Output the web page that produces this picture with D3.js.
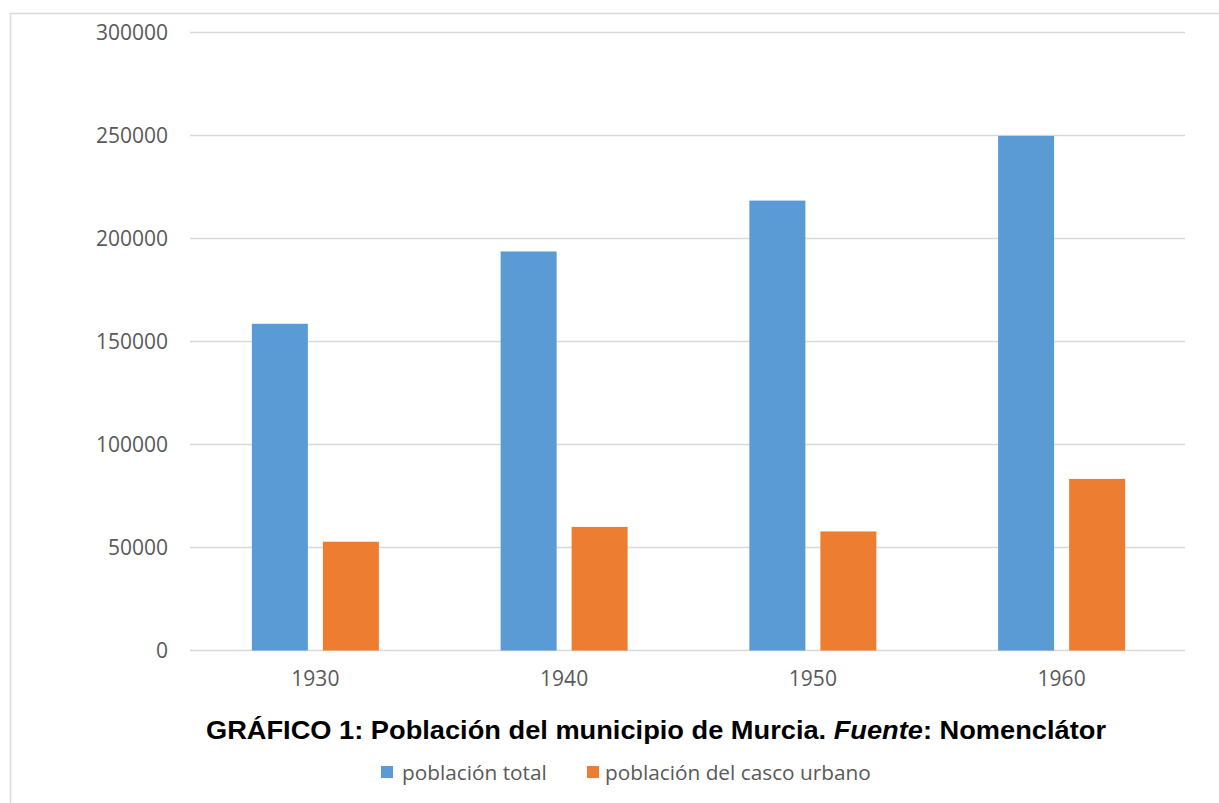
<!DOCTYPE html>
<html>
<head>
<meta charset="utf-8">
<script src="https://cdn.jsdelivr.net/npm/d3@7"></script>
<style>
  html, body { margin: 0; padding: 0; background: #fff; }
  svg { display: block; }
</style>
</head>
<body>
<svg id="chart" width="1219" height="803"></svg>
<script>
const categories = ["1930", "1940", "1950", "1960"];
const seriesNames = ["población total", "población del casco urbano"];
const poblacionTotal = [158600, 193700, 218400, 249800];
const poblacionCasco = [52800, 60000, 57800, 83300];
const yTicks = [0, 50000, 100000, 150000, 200000, 250000, 300000];
const colors = ["#5b9bd5", "#ed7d31"];

(function () {
const svg = d3.select("#chart");
const W = 1219, H = 803;

// outer border
svg.append("rect").attr("x", 10.5).attr("y", 13.5).attr("width", W).attr("height", H)
  .attr("fill", "#fff").attr("stroke", "#d9d9d9").attr("stroke-width", 1.5);

const pLeft = 190, pRight = 1185, pTop = 32.5, pBottom = 650.5;
const x = d3.scaleBand().domain(categories).range([pLeft, pRight]);
const y = d3.scaleLinear().domain([0, 300000]).range([pBottom, pTop]);

// gridlines
svg.append("g").selectAll("line").data(yTicks).join("line")
  .attr("x1", pLeft).attr("x2", pRight)
  .attr("y1", d => y(d)).attr("y2", d => y(d))
  .attr("stroke", "#d9d9d9").attr("stroke-width", 1.5);

// y axis labels
const yAxis = d3.axisLeft(y).tickValues(yTicks).tickSize(0).tickPadding(0).tickFormat(d3.format("d"));
const gy = svg.append("g").attr("transform", `translate(168,0)`).call(yAxis);
gy.select(".domain").remove();
gy.selectAll("text").attr("font-family", "Open Sans").attr("font-size", 21).attr("fill", "#595959")
  .attr("dy", "0.35em");

// x axis labels
const xAxis = d3.axisBottom(x).tickSize(0).tickPadding(0);
const gx = svg.append("g").attr("transform", `translate(1,${pBottom + 21})`).call(xAxis);
gx.select(".domain").remove();
gx.selectAll("text").attr("font-family", "Open Sans").attr("font-size", 21).attr("fill", "#595959")
  .attr("dy", "0.71em");

// bars
const bw = x.bandwidth();
const barW = bw * 56 / 248.75;
const innerGap = bw * 15 / 248.75;
const series = [poblacionTotal, poblacionCasco];
series.forEach((vals, si) => {
  svg.append("g").selectAll("rect").data(vals).join("rect")
    .attr("x", (d, i) => x(categories[i]) + bw / 2 + 1 - barW - innerGap / 2 + si * (barW + innerGap))
    .attr("y", d => y(d))
    .attr("width", barW)
    .attr("height", d => y(0) - y(d))
    .attr("fill", colors[si]);
});

// title
const title = svg.append("text")
  .attr("x", 656).attr("y", 739)
  .attr("text-anchor", "middle")
  .attr("font-family", "Liberation Sans, Arial, sans-serif")
  .attr("font-weight", "bold")
  .attr("font-size", 25)
  .attr("fill", "#000")
  .attr("textLength", 900)
  .attr("lengthAdjust", "spacingAndGlyphs");
title.append("tspan").text("GRÁFICO 1: Población del municipio de Murcia. ");
title.append("tspan").attr("font-style", "italic").text("Fuente");
title.append("tspan").text(": Nomenclátor");

// legend
const legendItems = [
  { name: seriesNames[0], color: colors[0], sx: 381, tx: 402 },
  { name: seriesNames[1], color: colors[1], sx: 587, tx: 605 }
];
const lg = svg.append("g");
legendItems.forEach(it => {
  lg.append("rect").attr("x", it.sx).attr("y", 766).attr("width", 12).attr("height", 12).attr("fill", it.color);
  lg.append("text").attr("x", it.tx).attr("y", 780)
    .attr("font-family", "Open Sans").attr("font-size", 20.8).attr("fill", "#595959")
    .text(it.name);
});
})();
</script>
</body>
</html>
